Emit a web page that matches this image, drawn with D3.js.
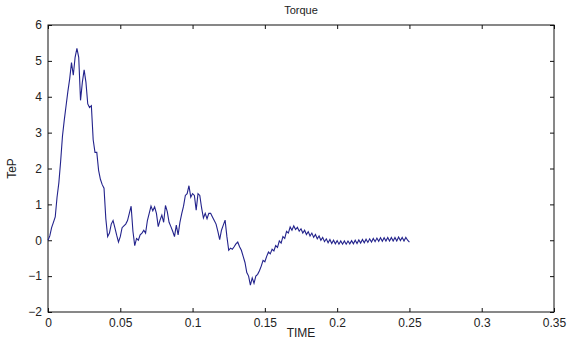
<!DOCTYPE html>
<html>
  <head>
    <meta charset="utf-8" />
    <script src="https://d3js.org/d3.v7.min.js"></script>
    <style>
      body { margin: 0; background: #fff; }
      text { font-family: 'Liberation Sans', Arial, sans-serif; fill: #222; }
    </style>
    <title>Torque</title>
  </head>

  <body>
    <div id="chart"></div>
  </body>

  <script>
    // sampling step of the trace (s)
    var dt = 0.00125;

    // TeP, one value per sample
    var torque = [
      0, 0.12, 0.35, 0.5, 0.65, 1.2, 1.6, 2.2, 2.9, 3.35,
      3.75, 4.15, 4.5, 4.95, 4.6, 5.1, 5.35, 5.1, 3.9, 4.4,
      4.75, 4.4, 3.8, 3.7, 3.75, 2.8, 2.45, 2.45, 1.95, 1.7,
      1.55, 1.45, 0.6, 0.1, 0.2, 0.45, 0.55, 0.35, 0.14, -0.05,
      0.1, 0.35, 0.4, 0.45, 0.55, 0.75, 0.95, 0.25, -0.15, 0.05,
      0.0, 0.15, 0.2, 0.28, 0.2, 0.55, 0.75, 0.95, 0.82, 0.93,
      0.75, 0.38, 0.56, 0.7, 0.5, 0.97, 0.8, 0.5, 0.38, 0.25,
      0.1, 0.42, 0.15, 0.5, 0.74, 0.95, 1.25, 1.3, 1.52, 1.2,
      1.3, 1.25, 0.84, 1.3, 1.25, 0.9, 0.62, 0.75, 0.6, 0.75,
      0.75, 0.65, 0.55, 0.45, 0.25, 0.02, 0.28, 0.42, 0.56, 0.1,
      -0.28, -0.22, -0.25, -0.18, -0.1, -0.05, -0.18, -0.28, -0.45, -0.62,
      -0.9, -1.0, -1.25, -1.05, -1.2, -1.0, -0.95, -0.85, -0.72, -0.56,
      -0.6, -0.45, -0.33, -0.38, -0.25, -0.3, -0.15, -0.2, -0.02, -0.08,
      0.1, 0.05, 0.25, 0.2, 0.37, 0.28, 0.4, 0.3, 0.36, 0.25,
      0.32, 0.2, 0.28, 0.16, 0.24, 0.12, 0.2, 0.08, 0.16, 0.04,
      0.12, 0.0, 0.08, -0.04, 0.04, -0.07, 0.02, -0.09, 0.0, -0.1,
      -0.01, -0.11, -0.02, -0.11, -0.02, -0.11, -0.02, -0.1, -0.01, -0.1,
      0.0, -0.09, 0.01, -0.08, 0.02, -0.07, 0.03, -0.06, 0.04, -0.05,
      0.05, -0.04, 0.06, -0.03, 0.07, -0.03, 0.07, -0.02, 0.08, -0.02,
      0.08, -0.02, 0.08, -0.02, 0.09, -0.01, 0.08, -0.02, 0.08, 0.0,
      -0.05
    ];

    var xTicks = [0, 0.05, 0.1, 0.15, 0.2, 0.25, 0.3, 0.35];
    var yTicks = [-2, -1, 0, 1, 2, 3, 4, 5, 6];

    var width = 568,
      height = 340;
    var margin = { top: 25, right: 14, bottom: 28, left: 48 };

    var svg = d3
      .select('#chart')
      .append('svg')
      .attr('width', width)
      .attr('height', height);

    var x = d3
      .scaleLinear()
      .domain([0, 0.35])
      .range([margin.left, width - margin.right]);
    var y = d3
      .scaleLinear()
      .domain([-2, 6])
      .range([height - margin.bottom, margin.top]);

    var fmt = function (d) {
      return d3.format('~g')(d);
    };

    // axes with inward ticks on all four sides (matlab look)
    function styleAxis(g) {
      g.select('.domain').remove();
      g.selectAll('.tick line').attr('stroke', '#111').attr('stroke-width', 1);
      g.selectAll('.tick text').style('font-size', '12px');
    }

    svg
      .append('g')
      .attr('transform', 'translate(0,' + y(-2) + ')')
      .call(d3.axisBottom(x).tickValues(xTicks).tickFormat(fmt).tickSizeInner(-4).tickPadding(6))
      .call(styleAxis);
    svg
      .append('g')
      .attr('transform', 'translate(0,' + y(6) + ')')
      .call(d3.axisTop(x).tickValues(xTicks).tickFormat('').tickSizeInner(-4))
      .call(styleAxis);
    svg
      .append('g')
      .attr('transform', 'translate(' + x(0) + ',0)')
      .call(d3.axisLeft(y).tickValues(yTicks).tickFormat(fmt).tickSizeInner(-4).tickPadding(6))
      .call(styleAxis);
    svg
      .append('g')
      .attr('transform', 'translate(' + x(0.35) + ',0)')
      .call(d3.axisRight(y).tickValues(yTicks).tickFormat('').tickSizeInner(-4))
      .call(styleAxis);

    // frame
    svg
      .append('rect')
      .attr('x', x(0))
      .attr('y', y(6))
      .attr('width', x(0.35) - x(0))
      .attr('height', y(-2) - y(6))
      .attr('fill', 'none')
      .attr('stroke', '#111')
      .attr('stroke-width', 1);

    var line = d3
      .line()
      .x((d, i) => x(i * dt))
      .y((d) => y(d));

    svg
      .append('path')
      .datum(torque)
      .attr('d', line)
      .attr('fill', 'none')
      .attr('stroke', '#23238c')
      .attr('stroke-width', 1.1);

    svg
      .append('text')
      .attr('x', (x(0) + x(0.35)) / 2)
      .attr('y', 14)
      .style('text-anchor', 'middle')
      .style('font-size', '11px')
      .text('Torque');

    svg
      .append('text')
      .attr('x', (x(0) + x(0.35)) / 2)
      .attr('y', 337)
      .style('text-anchor', 'middle')
      .style('font-size', '12px')
      .text('TIME');

    svg
      .append('text')
      .attr('transform', 'translate(16,' + (y(6) + y(-2)) / 2 + ') rotate(-90)')
      .style('text-anchor', 'middle')
      .style('font-size', '12px')
      .text('TeP');
  </script>
</html>
